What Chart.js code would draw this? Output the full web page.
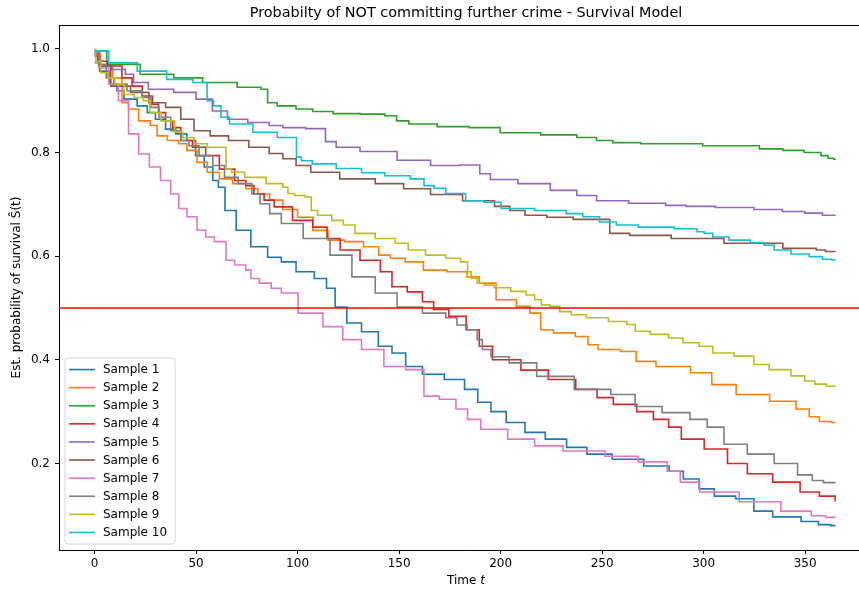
<!DOCTYPE html>
<html>
<head>
<meta charset="utf-8">
<script src="https://cdn.jsdelivr.net/npm/chart.js@4.4.1/dist/chart.umd.min.js"></script>
<style>
  html, body { margin: 0; padding: 0; background: #fff; overflow: hidden; }
  #wrap { width: 873px; height: 589px; }
</style>
</head>
<body>
<div id="wrap"><canvas id="survival"></canvas></div>
<script>
// Kaplan-Meier style step curves, [day, S(t)] at each step
var sample1 = [[0,0.99],[5,0.957],[10,0.932],[12,0.919],[17,0.903],[25,0.89],[27,0.877],[33,0.864],[37,0.845],[43,0.836],[48,0.823],[51.5,0.794],[56.5,0.772],[60,0.746],[62,0.733],[66.5,0.688],[73,0.65],[81,0.618],[89.5,0.598],[94.5,0.589],[104,0.57],[112.5,0.557],[116,0.538],[121,0.502],[127.5,0.471],[135.5,0.454],[144,0.426],[149,0.413],[157.5,0.387],[165.5,0.372],[179,0.362],[185.5,0.343],[192,0.318],[198.5,0.3],[207,0.279],[217,0.26],[227,0.247],[238,0.231],[247,0.218],[263,0.208],[278,0.195],[288,0.185],[292,0.17],[303.5,0.151],[307,0.137],[324.5,0.132],[325,0.108],[343,0.097],[353,0.088],[360,0.082],[365,0.08]];
var sample2 = [[0,0.99],[6,0.967],[12,0.944],[15,0.896],[18.5,0.884],[25,0.861],[30,0.852],[31.7,0.832],[40,0.823],[43,0.817],[48,0.804],[53,0.781],[58,0.762],[65,0.749],[71,0.74],[78,0.73],[83,0.72],[89.5,0.708],[96,0.69],[104,0.675],[111,0.65],[119,0.631],[127.5,0.628],[137.5,0.618],[142.5,0.602],[149,0.596],[157,0.589],[167,0.573],[180,0.57],[187,0.56],[192,0.548],[203.5,0.516],[212,0.503],[217,0.49],[219.5,0.49],[220,0.458],[232,0.452],[241.5,0.445],[244.5,0.429],[251.5,0.42],[266.5,0.416],[267,0.397],[286,0.387],[301,0.375],[307,0.352],[325,0.333],[340,0.32],[351,0.305],[353,0.29],[361,0.281],[365,0.279]];
var sample3 = [[0,0.996],[12,0.97],[33,0.951],[45,0.944],[61.5,0.935],[79,0.926],[85,0.922],[85.5,0.896],[94.5,0.89],[104,0.884],[111,0.879],[124,0.875],[137.5,0.874],[148.5,0.871],[149,0.861],[160.5,0.855],[177,0.85],[192,0.848],[207.5,0.838],[232,0.834],[243,0.829],[251.5,0.823],[259,0.819],[279,0.817],[320,0.813],[335,0.807],[343,0.804],[356,0.8],[359.5,0.794],[363,0.789],[365,0.787]];
var sample4 = [[0,0.99],[3,0.976],[10,0.967],[17,0.944],[20,0.928],[27,0.909],[30,0.893],[33,0.877],[37,0.861],[40,0.848],[45,0.823],[51.5,0.81],[58,0.794],[65,0.768],[73,0.746],[76,0.736],[81,0.72],[86,0.708],[91,0.695],[104,0.669],[111,0.656],[118,0.634],[124,0.612],[137.5,0.592],[144,0.57],[149,0.541],[159,0.531],[164,0.512],[170,0.497],[179,0.484],[187,0.458],[192,0.426],[200,0.4],[220,0.38],[227,0.362],[247,0.343],[248,0.327],[263,0.314],[271,0.3],[279.5,0.285],[286,0.27],[292,0.247],[308.5,0.228],[315,0.2],[328,0.18],[340,0.164],[355,0.145],[359,0.137],[364.5,0.137],[365,0.128]];
var sample5 = [[0,0.992],[5,0.967],[12,0.96],[18.5,0.951],[20,0.935],[33,0.922],[45,0.916],[55,0.903],[61,0.88],[70,0.864],[81,0.858],[91,0.852],[94.5,0.848],[113.5,0.846],[114,0.821],[124,0.81],[137.5,0.802],[160.5,0.785],[170.5,0.775],[189.5,0.776],[190,0.759],[200,0.748],[217,0.74],[232,0.727],[243,0.717],[251.5,0.707],[274.5,0.702],[288,0.698],[295,0.696],[316.5,0.694],[333,0.69],[344.5,0.686],[355,0.683],[362,0.679],[365,0.679]];
var sample6 = [[0,0.986],[4,0.967],[12,0.928],[23.5,0.916],[30,0.896],[40,0.887],[45,0.864],[53,0.842],[61,0.832],[71,0.823],[81,0.81],[91,0.798],[94.5,0.788],[104,0.775],[109,0.762],[132.5,0.749],[144,0.74],[160.5,0.73],[170.5,0.719],[192,0.707],[202,0.696],[207,0.688],[217,0.679],[228.5,0.675],[243,0.671],[253.5,0.671],[254,0.644],[273,0.64],[295,0.634],[325,0.625],[353,0.615],[358,0.612],[362,0.609],[365,0.609]];
var sample7 = [[0,0.973],[4.5,0.963],[9.5,0.932],[14,0.9],[19.5,0.836],[24,0.797],[30,0.772],[35,0.746],[40,0.72],[43,0.692],[48,0.676],[53,0.65],[56.5,0.637],[61.5,0.628],[64.5,0.628],[65,0.592],[73,0.583],[76,0.573],[78,0.557],[84.5,0.548],[89.5,0.538],[94.5,0.529],[106,0.49],[119,0.464],[125.5,0.439],[137.5,0.42],[147.5,0.387],[159,0.381],[162,0.381],[162.5,0.33],[177,0.324],[179,0.305],[188.5,0.285],[192,0.266],[215,0.247],[218.5,0.234],[243,0.224],[259.5,0.214],[276,0.203],[288,0.185],[289,0.164],[307,0.145],[328,0.126],[348,0.108],[358,0.099],[362,0.096],[365,0.096]];
var sample8 = [[0,0.995],[4.5,0.97],[7,0.944],[12,0.932],[20,0.919],[27,0.906],[28.5,0.887],[35,0.868],[40,0.842],[45,0.823],[48,0.813],[55,0.794],[61.5,0.775],[66.5,0.752],[75,0.74],[80,0.72],[83,0.701],[89.5,0.682],[94.5,0.663],[111,0.634],[121,0.602],[132.5,0.56],[144,0.529],[154,0.502],[169,0.49],[177,0.481],[180,0.467],[187,0.458],[190,0.439],[192,0.42],[198.5,0.406],[210,0.394],[225.5,0.368],[247,0.343],[261.5,0.333],[271,0.31],[288,0.298],[298.5,0.285],[305,0.27],[315,0.237],[328,0.218],[341.5,0.2],[351,0.178],[356,0.167],[362,0.163],[365,0.163]];
var sample9 = [[0,0.999],[1.2,0.976],[5,0.954],[8,0.944],[12,0.932],[17,0.912],[22,0.906],[26,0.9],[28.5,0.877],[37,0.861],[42,0.839],[45,0.829],[53,0.817],[58,0.81],[64.5,0.81],[65,0.768],[70,0.762],[78,0.752],[91,0.74],[94.5,0.733],[96,0.721],[101,0.717],[106.5,0.714],[107,0.688],[112.7,0.679],[121,0.669],[124,0.66],[132.5,0.644],[144,0.634],[152,0.625],[157,0.612],[169,0.602],[177,0.596],[183.5,0.589],[184,0.57],[187,0.557],[190,0.548],[193.5,0.544],[200,0.539],[210,0.532],[215,0.525],[218.5,0.516],[221.7,0.506],[226.6,0.503],[231.6,0.493],[238,0.487],[246.5,0.481],[259.7,0.474],[264.6,0.468],[268,0.455],[279.5,0.449],[286,0.442],[293.6,0.433],[302,0.426],[307,0.413],[323,0.407],[326.5,0.391],[338,0.381],[348,0.369],[351.5,0.359],[358,0.353],[363,0.349],[365,0.349]];
var sample10 = [[0,0.996],[14,0.973],[28,0.957],[43,0.941],[54,0.935],[55.2,0.935],[55.7,0.9],[61.5,0.89],[63,0.868],[70,0.855],[86,0.839],[94,0.829],[99.2,0.829],[99.7,0.791],[104,0.784],[110.5,0.778],[127.5,0.769],[135.5,0.761],[150.5,0.755],[160.5,0.749],[164,0.736],[170.5,0.731],[175.5,0.721],[190,0.707],[193.5,0.704],[207,0.692],[226.5,0.688],[238,0.682],[243,0.676],[254.5,0.666],[259.5,0.66],[276,0.656],[295,0.653],[298.5,0.647],[302,0.644],[307,0.637],[318,0.631],[328,0.626],[331.5,0.621],[338,0.612],[348,0.604],[356,0.599],[361,0.594],[365,0.593]];

var samples = [sample1, sample2, sample3, sample4, sample5, sample6, sample7, sample8, sample9, sample10];
var sampleNames = ["Sample 1", "Sample 2", "Sample 3", "Sample 4", "Sample 5", "Sample 6", "Sample 7", "Sample 8", "Sample 9", "Sample 10"];
var colores = ["#1f77b4", "#ff7f0e", "#2ca02c", "#d62728", "#9467bd", "#8c564b", "#e377c2", "#7f7f7f", "#bcbd22", "#17becf"];
var xTicks = [0, 50, 100, 150, 200, 250, 300, 350];
var yTicks = [0.2, 0.4, 0.6, 0.8, 1.0];
var limiar = 0.5;
var xMin = -17.5, xMax = 383.4;

var fonte = "'DejaVu Sans', sans-serif";
var titulo = "Probabilty of NOT committing further crime - Survival Model";

var datasets = samples.map(function(s, i){
  return {
    label: sampleNames[i],
    data: s.map(function(p){ return {x: p[0], y: p[1]}; }),
    borderColor: colores[i],
    borderWidth: 1.6,
    pointRadius: 0,
    stepped: 'middle',
    fill: false,
    order: 10 - i
  };
});

// horizontal line at 0.5
datasets.push({
  label: "limiar",
  data: [{x: xMin, y: limiar}, {x: xMax, y: limiar}],
  borderColor: "#ff0000",
  borderWidth: 1.6,
  pointRadius: 0,
  fill: false,
  order: 0
});

var moldura = {
  id: 'moldura',
  afterDraw: function(chart){
    var ctx = chart.ctx;
    var a = chart.chartArea;
    var sx = chart.scales.x;
    // centre of the axes, from the x scale itself
    var meio = (sx.getPixelForValue(xMin) + sx.getPixelForValue(xMax)) / 2;
    ctx.save();
    // top spine
    ctx.strokeStyle = "#000";
    ctx.lineWidth = 1;
    ctx.beginPath();
    ctx.moveTo(a.left, a.top + 0.5);
    ctx.lineTo(a.right, a.top + 0.5);
    ctx.stroke();

    // title
    ctx.fillStyle = "#000";
    ctx.textAlign = "center";
    ctx.textBaseline = "middle";
    ctx.font = "14.4px " + fonte;
    ctx.fillText(titulo, meio, 13);

    // x label "Time t" with italic t
    ctx.font = "12px " + fonte;
    var w1 = ctx.measureText("Time ").width;
    ctx.font = "italic 12px " + fonte;
    var w2 = ctx.measureText("t").width;
    var x0 = meio - (w1 + w2) / 2;
    ctx.textAlign = "left";
    ctx.font = "12px " + fonte;
    ctx.fillText("Time ", x0, 581);
    ctx.font = "italic 12px " + fonte;
    ctx.fillText("t", x0 + w1, 581);

    // legend box, lower left
    ctx.font = "12px " + fonte;
    var rowH = 18.1;
    var maxW = 0;
    sampleNames.forEach(function(n){ maxW = Math.max(maxW, ctx.measureText(n).width); });
    var bx = a.left + 6;
    var bh = sampleNames.length * rowH + 5;
    var by = a.bottom - 6 - bh;
    var bw = 4 + 26 + 8 + maxW + 8;
    var r = 3;
    ctx.beginPath();
    ctx.moveTo(bx + r, by);
    ctx.lineTo(bx + bw - r, by);
    ctx.quadraticCurveTo(bx + bw, by, bx + bw, by + r);
    ctx.lineTo(bx + bw, by + bh - r);
    ctx.quadraticCurveTo(bx + bw, by + bh, bx + bw - r, by + bh);
    ctx.lineTo(bx + r, by + bh);
    ctx.quadraticCurveTo(bx, by + bh, bx, by + bh - r);
    ctx.lineTo(bx, by + r);
    ctx.quadraticCurveTo(bx, by, bx + r, by);
    ctx.closePath();
    ctx.fillStyle = "rgba(255,255,255,0.8)";
    ctx.fill();
    ctx.strokeStyle = "rgba(204,204,204,0.8)";
    ctx.lineWidth = 1;
    ctx.stroke();

    ctx.textBaseline = "middle";
    ctx.textAlign = "left";
    sampleNames.forEach(function(n, i){
      var cy = by + 2.5 + rowH * (i + 0.5);
      ctx.strokeStyle = colores[i];
      ctx.lineWidth = 1.6;
      ctx.beginPath();
      ctx.moveTo(bx + 4, cy);
      ctx.lineTo(bx + 30, cy);
      ctx.stroke();
      ctx.fillStyle = "#000";
      ctx.fillText(n, bx + 38, cy + 0.5);
    });
    ctx.restore();
  }
};

var mChart = new Chart(document.getElementById("survival"), {
  type: 'line',
  data: { datasets: datasets },
  plugins: [moldura],
  options: {
    responsive: true,
    maintainAspectRatio: false,
    animation: false,
    devicePixelRatio: 1,
    layout: { padding: { top: 25, left: 0, right: 0, bottom: 0 } },
    plugins: {
      legend: { display: false },
      tooltip: { enabled: false },
      title: { display: false }
    },
    scales: {
      x: {
        type: 'linear',
        min: xMin,
        max: xMax,
        afterBuildTicks: function(scale){ scale.ticks = xTicks.map(function(v){ return {value: v}; }); },
        afterFit: function(scale){ scale.height = 39; },
        grid: { drawOnChartArea: false, drawTicks: true, tickLength: 4, color: "#000" },
        border: { display: true, color: "#000", width: 1 },
        ticks: { color: "#000", padding: 3, maxRotation: 0, font: { family: fonte, size: 12 } },
        title: { display: false }
      },
      y: {
        type: 'linear',
        min: 0.033,
        max: 1.046,
        afterBuildTicks: function(scale){ scale.ticks = yTicks.map(function(v){ return {value: v}; }); },
        afterFit: function(scale){ scale.width = 59; },
        grid: { drawOnChartArea: false, drawTicks: true, tickLength: 4, color: "#000" },
        border: { display: true, color: "#000", width: 1 },
        ticks: {
          color: "#000",
          padding: 5,
          font: { family: fonte, size: 12 },
          callback: function(v){ return v.toFixed(1); }
        },
        title: { display: true, text: "Est. probability of survival \u015C(t)", color: "#000", padding: { top: 10, bottom: 0 }, font: { family: fonte, size: 12 } }
      }
    }
  }
});
</script>
</body>
</html>
